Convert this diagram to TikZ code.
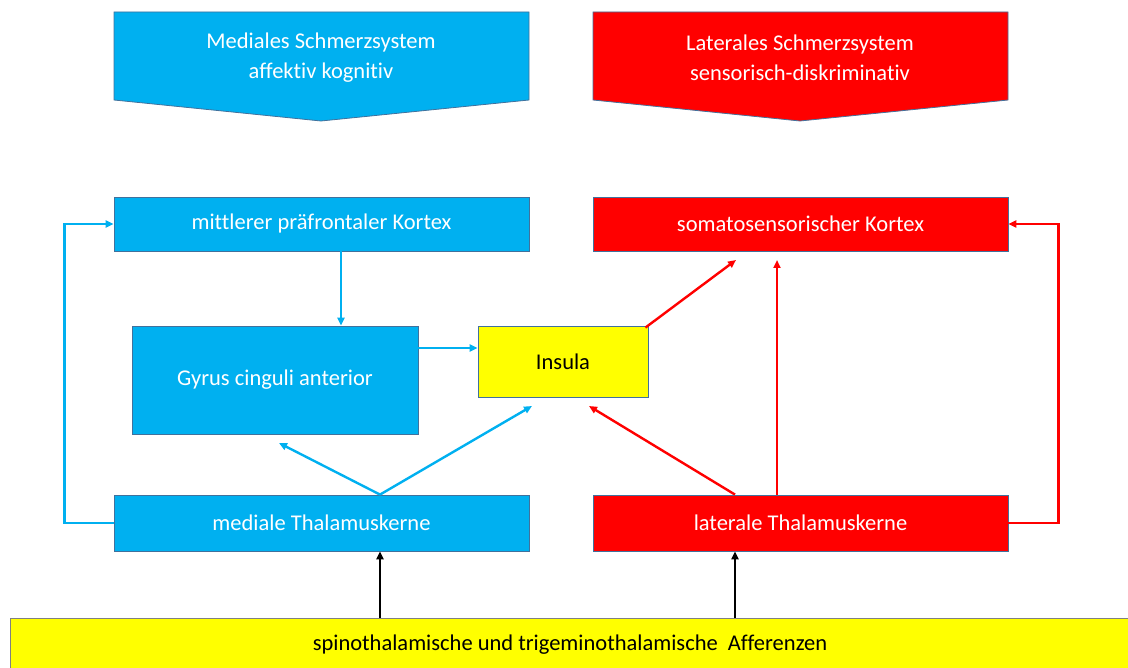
\documentclass[tikz,border=0pt]{standalone}
\usepackage{fontspec}
\setmainfont{Carlito}[Ligatures={NoCommon}]
\usetikzlibrary{arrows.meta}
\definecolor{cblue}{HTML}{00B0F0}
\definecolor{cred}{HTML}{FF0000}
\definecolor{cyel}{HTML}{FFFF00}
\definecolor{edge}{RGB}{65,113,156}
\tikzset{
  box/.style={draw=edge, line width=0.8pt, rectangle, inner sep=0pt, align=center,
    font=\fontsize{22.5}{30}\selectfont},
  bbox/.style={box, fill=cblue, text=white},
  rbox/.style={box, fill=cred, text=white},
  ybox/.style={box, fill=cyel, text=black},
  tip/.style={-{Triangle[length=8pt,width=7pt]}},
  barrow/.style={tip, draw=cblue, line width=2.4pt},
  rarrow/.style={tip, draw=cred, line width=2.4pt},
  karrow/.style={tip, draw=black, line width=2pt},
  chev/.style={draw=edge, line width=0.8pt},
  chevtext/.style={text=white, align=center, font=\fontsize{22.5}{30}\selectfont}
}
\begin{document}
\begin{tikzpicture}[x=1pt,y=-1pt]
\useasboundingbox (0,0) rectangle (1128,668);
% chevrons
\path[chev, fill=cblue] (114,12) -- (529,12) -- (529,100) -- (321,121) -- (114,100) -- cycle;
\node[chevtext] (medsys) at (321,58) {Mediales Schmerzsystem\\affektiv kognitiv};
\path[chev, fill=cred] (593,12) -- (1008,12) -- (1008,100) -- (800,121) -- (593,100) -- cycle;
\node[chevtext] (latsys) at (800,58) {Laterales Schmerzsystem\\sensorisch-diskriminativ};
% boxes
\node[bbox, minimum width=415pt, minimum height=54pt] (mpk) at (321.5,224) {mittlerer präfrontaler Kortex};
\node[rbox, minimum width=415pt, minimum height=54pt] (ssk) at (800.5,224) {somatosensorischer Kortex};
\node[bbox, minimum width=286pt, minimum height=108pt] (gyr) at (275,380) {Gyrus cinguli anterior};
\node[ybox, minimum width=170pt, minimum height=71pt] (ins) at (563,361.5) {Insula};
\node[bbox, minimum width=415pt, minimum height=56pt] (mth) at (321.5,523) {mediale Thalamuskerne};
\node[rbox, minimum width=415pt, minimum height=56pt] (lth) at (800.5,523) {laterale Thalamuskerne};
\node[ybox, draw=gray, minimum width=1120pt, minimum height=54pt] (aff) at (570,645) {spinothalamische und trigeminothalamische\ \ Afferenzen};
% free ends
\coordinate (gyrtip) at (279,443);
\coordinate (instip) at (532,406);
\coordinate (insred) at (589,406);
\coordinate (sskA) at (736,260);
\coordinate (sskB) at (777,260);
% blue connectors
\draw[barrow] ([xshift=19.5pt]mpk.south) -- ([xshift=19.5pt]mpk.south |- gyr.north);
\draw[barrow] ([yshift=32pt]gyr.east) -- ([yshift=32pt]gyr.east -| ins.west);
\path ([xshift=58.5pt]mth.north) coordinate (mtop);
\draw[barrow] (mtop) -- (gyrtip);
\draw[barrow] (mtop) -- (instip);
\draw[barrow] (mth.west) -- ++(-49,0) |- (mpk.west);
% red connectors
\draw[rarrow] ([xshift=-3pt,yshift=-2pt]ins.north east) -- (sskA);
\path ([xshift=-23.5pt]lth.north) coordinate (ltop);
\draw[rarrow] (ltop) -- (sskB);
\path ([xshift=-65.5pt]lth.north) coordinate (ltop2);
\draw[rarrow] (ltop2) -- (insred);
\draw[rarrow] (lth.east) -- ++(50,0) |- (ssk.east);
% black connectors
\path ([xshift=58.5pt]mth.south) coordinate (mb);
\draw[karrow] (mb |- aff.north) -- (mb);
\path ([xshift=-65.5pt]lth.south) coordinate (lb);
\draw[karrow] (lb |- aff.north) -- (lb);
\end{tikzpicture}
\end{document}
